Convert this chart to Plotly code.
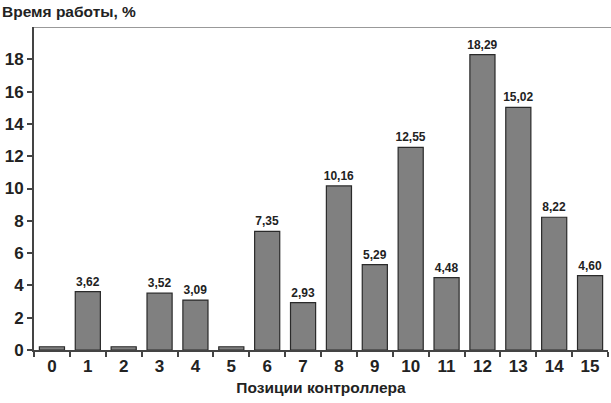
import plotly.graph_objects as go

# Controller positions and share of operating time (%)
positions = [str(i) for i in range(16)]
work_time = [0.2, 3.62, 0.2, 3.52, 3.09, 0.2, 7.35, 2.93, 10.16, 5.29,
             12.55, 4.48, 18.29, 15.02, 8.22, 4.60]
labelled = [False, True, False, True, True, False, True, True, True, True,
            True, True, True, True, True, True]
y_ticks = list(range(0, 19, 2))

labels = [f"{v:.2f}".replace(".", ",") if show else ""
          for v, show in zip(work_time, labelled)]

font_family = "Liberation Sans, Arial, sans-serif"

fig = go.Figure(go.Bar(
    x=positions,
    y=work_time,
    text=labels,
    texttemplate="<b>%{text}</b>",
    textposition="outside",
    constraintext="none",
    cliponaxis=False,
    textfont=dict(family=font_family, size=12, color="#222"),
    marker=dict(color="#808080", line=dict(color="#2a2a2a", width=1.2)),
    width=0.7,
))

fig.update_layout(
    width=611, height=403,
    margin=dict(l=34, r=3, t=27, b=53),
    plot_bgcolor="white", paper_bgcolor="white",
    showlegend=False,
    font=dict(family=font_family, color="#222"),
    xaxis=dict(
        type="category",
        range=[-0.5, 15.5],
        tickson="boundaries",
        ticks="outside", ticklen=5, tickcolor="#444", tickwidth=1.5,
        showline=True, linecolor="#444", linewidth=2,
        showgrid=False,
        tickprefix="<b>", ticksuffix="</b>",
        tickfont=dict(size=17, family=font_family, color="#222"),
        title=dict(text="<b>Позиции контроллера</b>",
                   font=dict(size=15.5, family=font_family, color="#222"),
                   standoff=7),
    ),
    yaxis=dict(
        range=[0, 20],
        tickvals=y_ticks,
        ticktext=[f"<b>{t}</b>" for t in y_ticks],
        ticks="outside", ticklen=5, tickcolor="#444", tickwidth=1.5,
        showline=True, linecolor="#444", linewidth=2,
        showgrid=False, zeroline=False,
        tickfont=dict(size=17, family=font_family, color="#222"),
    ),
    annotations=[dict(
        text="<b>Время работы, %</b>",
        xref="paper", yref="paper", x=-34 / 574, y=1, yshift=5,
        xanchor="left", yanchor="bottom", showarrow=False,
        font=dict(size=15.5, family=font_family, color="#222"),
    )],
    shapes=[dict(type="line", xref="paper", yref="y", x0=0, x1=1.01,
                 y0=20, y1=20, line=dict(color="#777", width=1.5))],
)

fig.write_html("out.html")
